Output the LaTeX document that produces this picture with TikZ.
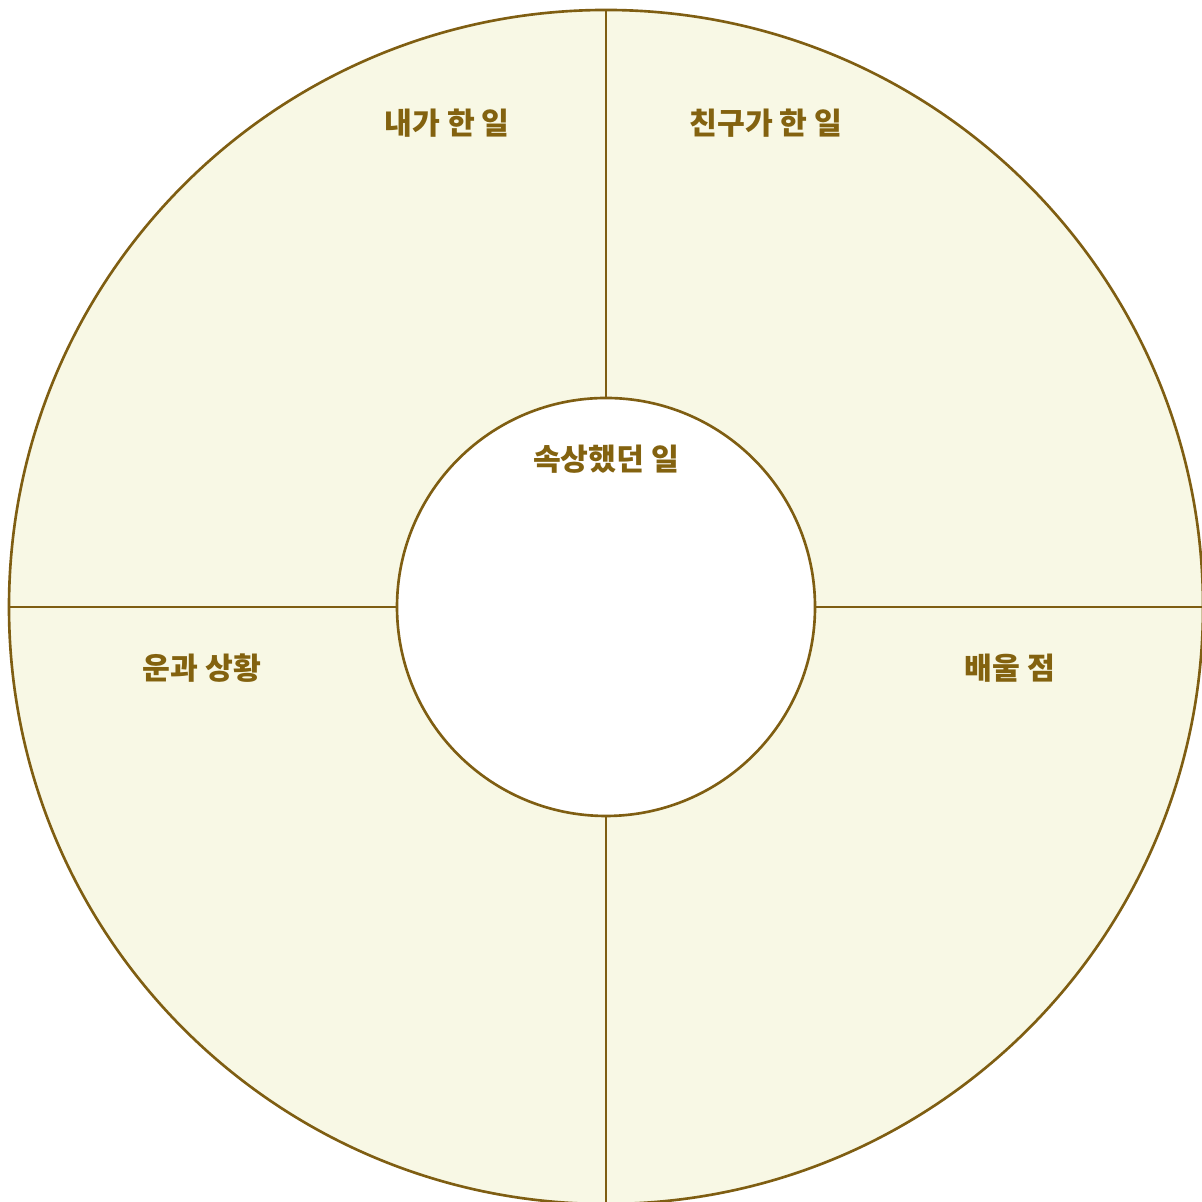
\documentclass[tikz,border=0pt]{standalone}
\usepackage{fontspec}
\newfontfamily\krfont{Noto Sans CJK KR}
\definecolor{ringFill}{HTML}{F8F8E5}
\definecolor{lineBrown}{HTML}{7F5E12}
\definecolor{textBrown}{HTML}{83620F}
\usetikzlibrary{calc, positioning}

\tikzset{
  label/.style={text=textBrown, font=\krfont\bfseries\fontsize{8.6pt}{10pt}\selectfont, inner sep=0pt},
  divider/.style={draw=lineBrown, line width=0.75pt}
}

\begin{document}
\begin{tikzpicture}
        \useasboundingbox[fill=white] (0,0) rectangle (12.02,12.02);
        % ring and centre
        \node[circle, draw=lineBrown, fill=ringFill, line width=0.75pt, inner sep=0pt,
              minimum size=11.94cm] (outer) at (6.06,5.95) {};
        \node[circle, draw=lineBrown, fill=white, line width=0.75pt, inner sep=0pt,
              minimum size=4.18cm] (inner) at (outer.center) {};
        % four dividers
        \draw[divider] (inner.north) -- (outer.north);
        \draw[divider] (inner.south) -- (outer.south);
        \draw[divider] (inner.west) -- (outer.west);
        \draw[divider] (inner.east) -- (outer.east);
        % texts
        \node[label] (mine) at (4.47,10.79) {내가 한 일};
        \node[label] (friend) at (7.66,10.79) {친구가 한 일};
        \node[label] (upset) at (6.06,7.43) {속상했던 일};
        \node[label] (luck) at (2.02,5.34) {운과 상황};
        \node[label] (learn) at (10.10,5.34) {배울 점};
      \end{tikzpicture}
\end{document}
